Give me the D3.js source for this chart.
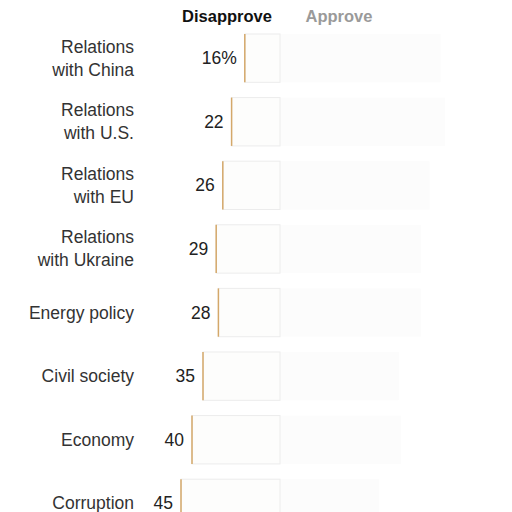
<!DOCTYPE html>
<html>
<head>
<meta charset="utf-8">
<script src="https://cdn.jsdelivr.net/npm/d3@7"></script>
<style>
  body { margin: 0; background: #fff; }
  text { font-family: "Liberation Sans", Arial, sans-serif; }
</style>
</head>
<body>
<svg id="chart" width="512" height="512"></svg>
<script>
// categories, top to bottom
const categories = [
  ["Relations", "with China"],
  ["Relations", "with U.S."],
  ["Relations", "with EU"],
  ["Relations", "with Ukraine"],
  ["Energy policy"],
  ["Civil society"],
  ["Economy"],
  ["Corruption"]
];
const disapprove = [16, 22, 26, 29, 28, 35, 40, 45];
// approve bars are barely visible in the picture, estimated
const approve = [73, 75, 68, 64, 64, 54, 55, 45];
const valueLabels = ["16%", "22", "26", "29", "28", "35", "40", "45"];

const svg = d3.select("#chart");
const center = 280;

const x = d3.scaleLinear().domain([0, 100]).range([0, 220]);
const y = d3.scaleBand()
    .domain(d3.range(categories.length))
    .range([34, 527.5])
    .paddingInner(0.24)
    .paddingOuter(0);

// header
svg.append("text")
    .attr("x", 227).attr("y", 22)
    .attr("text-anchor", "middle")
    .style("font-size", "16.5px").style("font-weight", "bold")
    .style("fill", "#111")
    .text("Disapprove");
svg.append("text")
    .attr("x", 339).attr("y", 22)
    .attr("text-anchor", "middle")
    .style("font-size", "16.5px").style("font-weight", "bold")
    .style("fill", "#9a9a9a")
    .text("Approve");

const rows = svg.selectAll(".row")
    .data(categories.map((c, i) => ({ cat: c, dis: disapprove[i], app: approve[i], lab: valueLabels[i], i })))
    .enter()
    .append("g")
    .attr("class", "row");

// approve bars
rows.append("rect")
    .attr("x", center)
    .attr("y", d => y(d.i))
    .attr("width", d => x(d.app))
    .attr("height", y.bandwidth())
    .style("fill", "#fcfcfc");

// disapprove bars
rows.append("rect")
    .attr("x", d => center - x(d.dis))
    .attr("y", d => y(d.i))
    .attr("width", d => x(d.dis))
    .attr("height", y.bandwidth())
    .style("fill", "#fdfdfc")
    .style("stroke", "#ececec")
    .style("stroke-width", 1);

// tan edge on the left of each disapprove bar
rows.append("line")
    .attr("x1", d => center - x(d.dis))
    .attr("x2", d => center - x(d.dis))
    .attr("y1", d => y(d.i))
    .attr("y2", d => y(d.i) + y.bandwidth())
    .style("stroke", "#d4a86a")
    .style("stroke-width", 1.5);

// value labels
rows.append("text")
    .attr("x", d => center - x(d.dis) - 8)
    .attr("y", d => y(d.i) + y.bandwidth() / 2 + 6)
    .attr("text-anchor", "end")
    .style("font-size", "17.5px")
    .style("fill", "#222")
    .text(d => d.lab);

// category labels
rows.each(function(d) {
    const g = d3.select(this);
    const mid = y(d.i) + y.bandwidth() / 2;
    const n = d.cat.length;
    d.cat.forEach((line, k) => {
        g.append("text")
            .attr("x", 134)
            .attr("y", mid + 6 + (k - (n - 1) / 2) * 23)
            .attr("text-anchor", "end")
            .style("font-size", "17.5px")
            .style("fill", "#333")
            .text(line);
    });
});
</script>
</body>
</html>
